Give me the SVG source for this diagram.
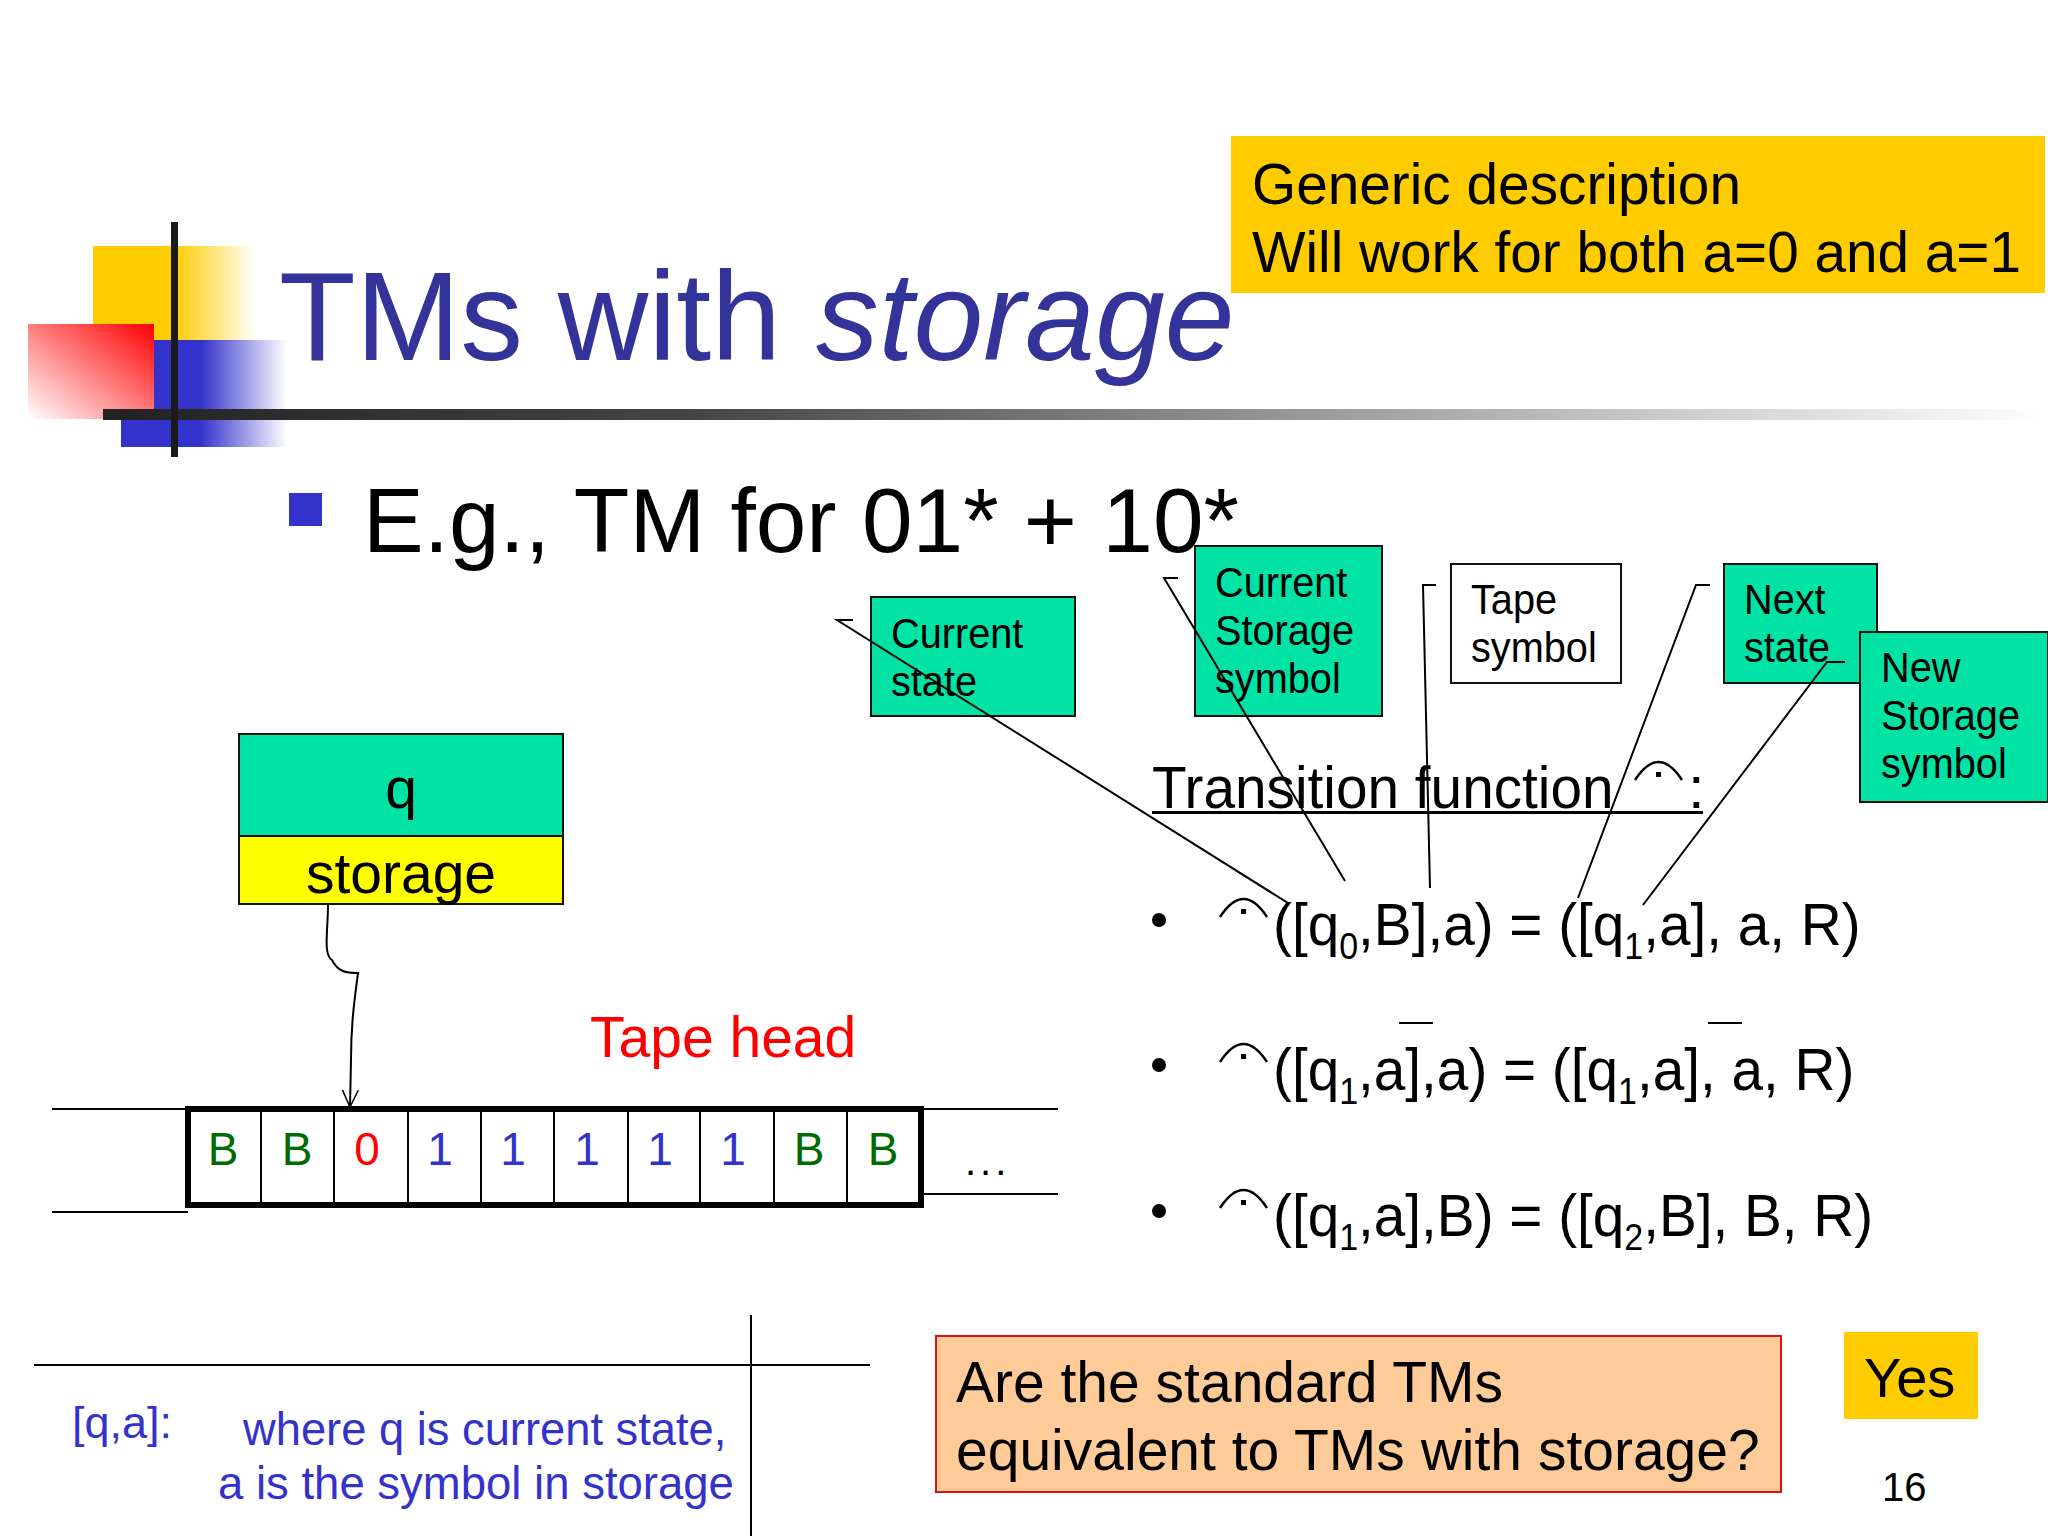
<svg xmlns="http://www.w3.org/2000/svg" width="2048" height="1536" viewBox="0 0 2048 1536">
<style>
text{font-family:"Liberation Sans",Arial,sans-serif;fill:#000}
.box{fill:#00e3a5;stroke:#111;stroke-width:2}
.l{fill:none;stroke:#000;stroke-width:2}
.c{font-size:42px}
.f{font-size:60px}
.t{font-size:46px;text-anchor:middle}
.g{fill:#006b00}.b{fill:#3333cc}.r{fill:#ff0000}
.sub{font-size:36px}
.lg{font-size:45px;fill:#3333cc}
</style>
<defs>
<linearGradient id="gy" gradientUnits="userSpaceOnUse" x1="93" y1="0" x2="256" y2="0"><stop offset="0.5" stop-color="#ffcc00"/><stop offset="1" stop-color="#ffcc00" stop-opacity="0"/></linearGradient>
<linearGradient id="gb" gradientUnits="userSpaceOnUse" x1="121" y1="0" x2="287" y2="0"><stop offset="0.48" stop-color="#3333cc"/><stop offset="1" stop-color="#3333cc" stop-opacity="0"/></linearGradient>
<linearGradient id="gr" x1="1" y1="0" x2="0" y2="1"><stop offset="0" stop-color="#ff0000"/><stop offset="1" stop-color="#ffffff"/></linearGradient>
<linearGradient id="gk" gradientUnits="userSpaceOnUse" x1="103" y1="0" x2="2048" y2="0"><stop offset="0" stop-color="#222"/><stop offset="0.3" stop-color="#444"/><stop offset="1" stop-color="#444" stop-opacity="0"/></linearGradient>
<g id="hat"><path d="M0 18Q23.500 -18 47 18" fill="none" stroke="#000" stroke-width="2.500"/><rect x="21" y="10" width="5" height="5"/></g>
<marker id="open" markerWidth="20" markerHeight="20" refX="17" refY="9" orient="auto" markerUnits="userSpaceOnUse"><path d="M0 1L17 9L0 17" fill="none" stroke="#000" stroke-width="1.500"/></marker>
</defs>
<rect width="2048" height="1536" fill="#fff"/>
<g id="logo">
<rect x="93" y="246" width="163" height="95" fill="url(#gy)"/>
<path d="M154 340H287V447H121V419H154Z" fill="url(#gb)"/>
<rect x="28" y="324" width="126" height="95" fill="url(#gr)"/>
<rect x="103" y="409" width="1945" height="11" fill="url(#gk)"/>
<rect x="171" y="222" width="7" height="235" fill="#1a1a1a"/>
</g>
<text id="title" x="279" y="360" font-size="125.500" style="fill:#333399">TMs with <tspan font-style="italic">storage</tspan></text>
<g id="note-generic"><rect x="1231" y="136" width="814" height="157" fill="#ffcc00"/>
<text x="1252" y="204" font-size="57" textLength="489" lengthAdjust="spacingAndGlyphs">Generic description</text><text x="1252" y="272" font-size="57" textLength="769" lengthAdjust="spacingAndGlyphs">Will work for both a=0 and a=1</text></g>
<g id="bullet"><rect x="289" y="493" width="33" height="33" fill="#3333cc"/><text x="363" y="552" font-size="91">E.g., TM for 01* + 10*</text></g>
<g id="label-current-state"><rect class="box" x="871" y="597" width="204" height="119"/><text class="c" transform="translate(891 648) scale(.945 1)">Current</text><text class="c" transform="translate(891 696) scale(.945 1)">state</text></g>
<g id="label-current-storage"><rect class="box" x="1195" y="546" width="187" height="170"/><text class="c" transform="translate(1215 597) scale(.945 1)">Current</text><text class="c" transform="translate(1215 645) scale(.945 1)">Storage</text><text class="c" transform="translate(1215 693) scale(.945 1)">symbol</text></g>
<g id="label-tape-symbol"><rect x="1451" y="564" width="170" height="119" fill="#fff" stroke="#111" stroke-width="2"/><text class="c" transform="translate(1471 614) scale(.945 1)">Tape</text><text class="c" transform="translate(1471 662) scale(.945 1)">symbol</text></g>
<g id="label-next-state"><rect class="box" x="1724" y="564" width="153" height="119"/><text class="c" transform="translate(1744 614) scale(.945 1)">Next</text><text class="c" transform="translate(1744 662) scale(.945 1)">state</text></g>
<g id="label-new-storage"><rect class="box" x="1860" y="632" width="188" height="170"/><text class="c" transform="translate(1881 682) scale(.945 1)">New</text><text class="c" transform="translate(1881 730) scale(.945 1)">Storage</text><text class="c" transform="translate(1881 778) scale(.945 1)">symbol</text></g>
<g id="head"><rect x="239" y="734" width="324" height="102" fill="#00e3a5" stroke="#111" stroke-width="2"/><rect x="239" y="836" width="324" height="68" fill="#ffff00" stroke="#111" stroke-width="2"/>
<text x="401" y="808" font-size="57" text-anchor="middle">q</text><text x="401" y="893" font-size="57" text-anchor="middle">storage</text></g>
<text id="tape-head" x="590" y="1057" font-size="57" style="fill:#ff0000">Tape head</text>
<g id="connectors">
<path class="l" d="M853 620H837L1288 903"/>
<path class="l" d="M1178 578H1164L1345 881"/>
<path class="l" d="M1436 585H1423L1430 888"/>
<path class="l" d="M1710 585H1696L1578 898"/>
<path class="l" d="M1845 662H1827L1643 905"/>
<path class="l" d="M328 905C328 930 323 955 332 960C338 972 346 973 358 973C353 1010 351 1030 351 1060L350 1107" marker-end="url(#open)"/>
</g>
<g id="tape">
<path class="l" d="M52 1109H188M52 1212H188M922 1109H1058M922 1194H1058"/>
<rect x="188" y="1109" width="733" height="96" fill="#fff" stroke="#000" stroke-width="6"/>
<path class="l" d="M261 1109v96M334 1109v96M408 1109v96M481 1109v96M554 1109v96M628 1109v96M700 1109v96M774 1109v96M847 1109v96"/>
<g><text class="t g" x="223" y="1165">B</text><text class="t g" x="297" y="1165">B</text><text class="t r" x="367" y="1165">0</text><text class="t b" x="440" y="1165">1</text><text class="t b" x="513" y="1165">1</text><text class="t b" x="587" y="1165">1</text><text class="t b" x="660" y="1165">1</text><text class="t b" x="733" y="1165">1</text><text class="t g" x="809" y="1165">B</text><text class="t g" x="883" y="1165">B</text></g>
<text x="965" y="1175" font-size="40" letter-spacing="4">...</text>
</g>
<g id="transition">
<text class="f" transform="translate(1152 808) scale(.946 1)">Transition function</text><text x="1688" y="808" class="f">:</text>
<rect x="1152" y="811" width="551" height="3" fill="#000"/>
<use href="#hat" x="1635" y="762"/>
<use href="#hat" x="1220" y="899"/><use href="#hat" x="1220" y="1044"/><use href="#hat" x="1220" y="1190"/>
<circle cx="1159" cy="920" r="7"/><circle cx="1159" cy="1065" r="7"/><circle cx="1159" cy="1211" r="7"/>
<text class="f" transform="translate(1273 945) scale(.945 1)">([q<tspan class="sub" dy="14">0</tspan><tspan dy="-14">,B],a) = ([q</tspan><tspan class="sub" dy="14">1</tspan><tspan dy="-14">,a], a, R)</tspan></text>
<text class="f" transform="translate(1273 1090) scale(.945 1)">([q<tspan class="sub" dy="14">1</tspan><tspan dy="-14">,a],a) = ([q</tspan><tspan class="sub" dy="14">1</tspan><tspan dy="-14">,a], a, R)</tspan></text>
<text class="f" transform="translate(1273 1236) scale(.945 1)">([q<tspan class="sub" dy="14">1</tspan><tspan dy="-14">,a],B) = ([q</tspan><tspan class="sub" dy="14">2</tspan><tspan dy="-14">,B], B, R)</tspan></text>
<path class="l" d="M1399 1023h34M1708 1023h34"/>
</g>
<g id="legend">
<path class="l" d="M34 1365H870M751 1315V1536"/>
<text x="72" y="1438" class="lg" style="fill:#3333cc">[q,a]:</text>
<text x="243" y="1445" class="lg" style="font-size:45.300px;fill:#3333cc">where q is current state,</text>
<text x="218" y="1499" class="lg" style="font-size:45.500px;fill:#3333cc">a is the symbol in storage</text>
</g>
<g id="question"><rect x="936" y="1336" width="845" height="156" fill="#ffcc99" stroke="#e01010" stroke-width="2"/>
<text x="956" y="1402" font-size="57">Are the standard TMs</text><text x="956" y="1470" font-size="57">equivalent to TMs with storage?</text></g>
<g id="yes"><rect x="1844" y="1332" width="134" height="87" fill="#ffcc00"/><text x="1864" y="1397" font-size="56">Yes</text></g>
<text id="page" x="1882" y="1501" font-size="40">16</text>
</svg>
